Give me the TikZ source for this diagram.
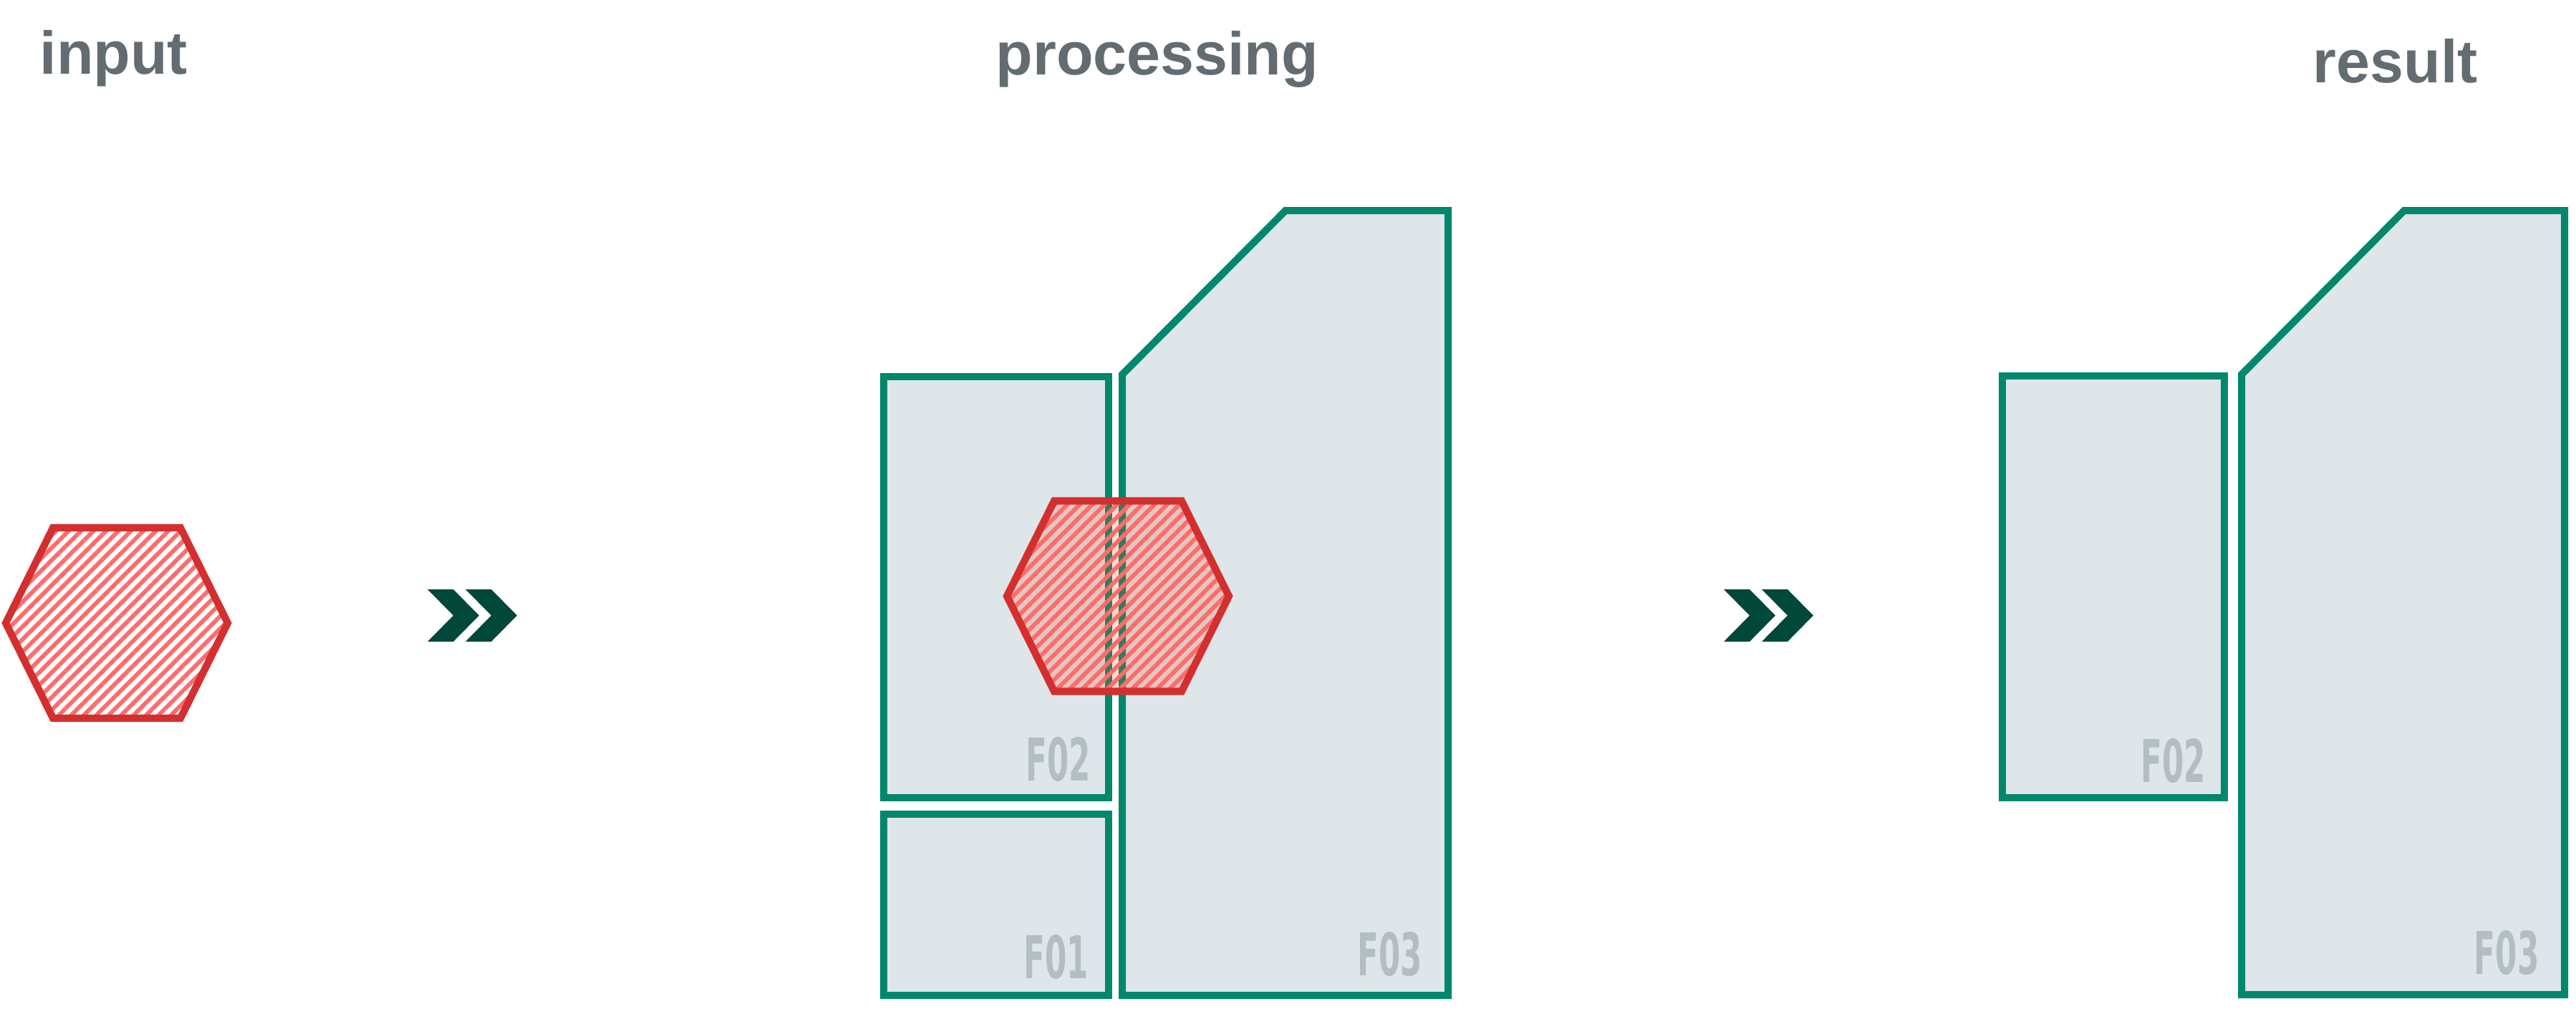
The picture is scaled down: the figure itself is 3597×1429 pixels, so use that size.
\documentclass[tikz,border=0pt]{standalone}
\usepackage{fontspec}
\usepackage{graphicx}
\setmainfont{Liberation Sans}
\newfontfamily\titlefont{Liberation Sans Bold}
\newfontfamily\tagfont{DejaVu Sans Bold}
\usetikzlibrary{patterns.meta}
\definecolor{titlegray}{RGB}{99,108,112}
\definecolor{framegreen}{RGB}{0,135,108}
\definecolor{fieldgray}{RGB}{222,230,233}
\definecolor{taggray}{RGB}{179,190,196}
\definecolor{hexred}{RGB}{212,47,47}
\definecolor{hatchred}{RGB}{255,107,107}
\definecolor{tintred}{RGB}{240,80,30}
\definecolor{chevgreen}{RGB}{0,72,57}
\begin{document}
\begin{tikzpicture}[
                x = 0.01cm, y = -0.01cm,
                title/.style = {anchor = base west, inner sep = 0pt, text = titlegray, font = \titlefont\fontsize{24}{30}\selectfont},
                tag/.style = {anchor = south east, inner sep = 0pt, text = taggray, font = \tagfont\fontsize{23.4}{28}\selectfont},
                field/.style = {draw = framegreen, line width = 2.85pt, fill = fieldgray, line join = miter},
                hexa/.style = {draw = hexred, line width = 2.9pt, line join = miter},
                hatch/.style = {pattern = {Lines[angle = 45, distance = 3.5pt, line width = 1.65pt]}, pattern color = hatchred},
                chev/.style = {fill = chevgreen},
            ]
            \useasboundingbox (0, 0) rectangle (3597, 1429);

            \node (input) at (55, 103) [title] {input};
            \node (processing) at (1390, 104) [title] {processing};
            \node (result) at (3229, 115) [title] {result};

            \path[hatch] [shift = {(163, 870)}] (-155, 0) -- (-89, -133) -- (89, -133) -- (155, 0) -- (89, 133) -- (-89, 133) -- cycle;
            \draw[hexa] [shift = {(163, 870)}] (-155, 0) -- (-89, -133) -- (89, -133) -- (155, 0) -- (89, 133) -- (-89, 133) -- cycle;

            \foreach \x in {597, 650, 2407, 2460}
                \fill[chev] (\x, 823) -- ++(36, 0) -- ++(36, 36.5) -- ++(-36, 36.5) -- ++(-36, 0) -- ++(36, -36.5) -- cycle;

            \draw[field] (1234, 526) rectangle (1548, 1114);
            \draw[field] (1234, 1137) rectangle (1548, 1390);
            \draw[field] (1567, 1390) -- (1567, 523) -- (1795, 294) -- (2022, 294) -- (2022, 1390) -- cycle;

            \fill[tintred, opacity = 0.2] [shift = {(1561, 832.5)}] (-155, 0) -- (-89, -133) -- (89, -133) -- (155, 0) -- (89, 133) -- (-89, 133) -- cycle;
            \path[hatch, fill opacity = 0.8] [shift = {(1561, 832.5)}] (-155, 0) -- (-89, -133) -- (89, -133) -- (155, 0) -- (89, 133) -- (-89, 133) -- cycle;
            \draw[hexa] [shift = {(1561, 832.5)}] (-155, 0) -- (-89, -133) -- (89, -133) -- (155, 0) -- (89, 133) -- (-89, 133) -- cycle;

            \node (F02a) at (1524, 1092) [tag] {\scalebox{0.53}[1]{F02}};
            \node (F01a) at (1521, 1368) [tag] {\scalebox{0.53}[1]{F01}};
            \node (F03a) at (1987, 1364) [tag] {\scalebox{0.53}[1]{F03}};

            \draw[field] (2796, 525) rectangle (3106, 1114);
            \draw[field] (3130, 1389) -- (3130, 523) -- (3357, 294) -- (3581, 294) -- (3581, 1389) -- cycle;

            \node (F02b) at (3081, 1094) [tag] {\scalebox{0.53}[1]{F02}};
            \node (F03b) at (3546, 1362) [tag] {\scalebox{0.53}[1]{F03}};
        \end{tikzpicture}
\end{document}
